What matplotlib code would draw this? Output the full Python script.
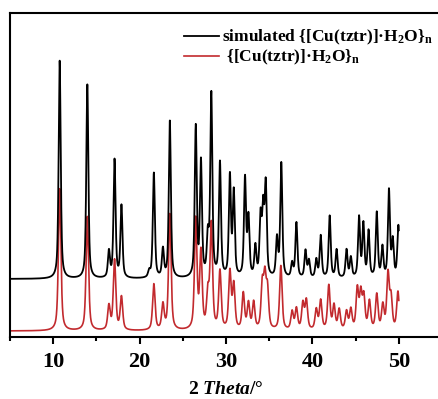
import matplotlib

matplotlib.use("Agg")
import matplotlib.pyplot as plt
import numpy as np
from matplotlib.ticker import MultipleLocator

# peak positions (2 theta, deg) and heights (a.u.)
sim_pos = [10.75, 13.95, 16.45, 17.1, 17.9, 21.1, 21.65, 22.7, 23.5, 26.5,
           27.1, 27.9, 28.3, 29.3, 30.45, 30.9, 32.2, 32.6, 33.4, 34.0,
           34.3, 34.6, 35.9, 36.4, 37.65, 38.15, 39.2, 39.6, 40.45, 40.96,
           42.0, 42.8, 43.95, 44.45, 45.4, 45.9, 46.5, 47.45, 48.1, 48.86,
           49.3, 49.95]
sim_height = [218, 194, 26, 118, 72, 6, 105, 28, 157, 150,
              114, 38, 182, 114, 100, 84, 98, 58, 30, 58,
              64, 90, 38, 114, 14, 55, 27, 17, 18, 42,
              62, 28, 28, 20, 60, 53, 46, 65, 30, 87,
              36, 52]

exp_pos = [10.75, 13.95, 16.45, 17.1, 17.9, 21.65, 22.7, 23.5, 26.5, 27.1,
           27.9, 28.3, 29.3, 30.45, 30.9, 32.0, 32.6, 33.2, 34.2, 34.5,
           34.8, 36.35, 37.65, 38.15, 38.9, 39.3, 40.45, 40.96, 41.9, 42.5,
           43.1, 43.95, 44.45, 45.2, 45.6, 45.95, 46.6, 47.45, 48.15, 48.75,
           49.1, 49.9]
exp_height = [142, 114, 24, 70, 33, 46, 25, 116, 110, 76,
              34, 104, 58, 57, 44, 36, 26, 27, 43, 48,
              38, 64, 18, 21, 26, 29, 20, 29, 44, 24,
              20, 18, 20, 40, 35, 32, 28, 35, 24, 55,
              31, 38]

sim_offset = 58
exp_offset = 6

sim_label = "simulated {[Cu(tztr)]·H$_\\mathrm{2}$O}$_\\mathrm{n}$"
exp_label = " {[Cu(tztr)]·H$_\\mathrm{2}$O}$_\\mathrm{n}$"

plt.rcParams["font.family"] = "Liberation Serif"
plt.rcParams["font.weight"] = "bold"
plt.rcParams["mathtext.fontset"] = "custom"
plt.rcParams["mathtext.rm"] = "Liberation Serif:bold"
plt.rcParams["mathtext.it"] = "Liberation Serif:italic:bold"
plt.rcParams["mathtext.bf"] = "Liberation Serif:bold"


def profile(two_theta: np.ndarray, pos: list, height: list,
            fwhm: float = 0.28, eta: float = 0.6) -> np.ndarray:
    """Sum of pseudo-Voigt peaks for the given peak list."""
    hw = fwhm / 2
    sigma = fwhm / 2.3548
    y = np.zeros_like(two_theta)
    for p, h in zip(pos, height):
        d = two_theta - p
        lor = hw**2 / (d**2 + hw**2)
        gau = np.exp(-(d**2) / (2 * sigma**2))
        y += h * (eta * lor + (1 - eta) * gau)
    return y


two_theta = np.arange(5, 50.001, 0.01)

fig = plt.figure(figsize=(4.38, 3.99), dpi=100)
ax = fig.add_axes([10 / 438, 62 / 399, 432 / 438, 324 / 399])

ax.plot(two_theta, profile(two_theta, exp_pos, exp_height, fwhm=0.34) + exp_offset,
        color="#c22a2e", lw=1.2, label=exp_label)
ax.plot(two_theta, profile(two_theta, sim_pos, sim_height) + sim_offset,
        color="black", lw=1.3, label=sim_label, zorder=3)

ax.set_xlim(5, 55)
ax.set_ylim(0, 324)
ax.set_yticks([])
ax.xaxis.set_major_locator(MultipleLocator(10))
ax.xaxis.set_minor_locator(MultipleLocator(5))
ax.tick_params(axis="x", which="major", direction="out", length=5, width=1.5,
               labelsize=16, pad=6)
ax.tick_params(axis="x", which="minor", direction="out", length=3, width=1.5)
for side in ["left", "top", "bottom"]:
    ax.spines[side].set_linewidth(1.5)
ax.spines["right"].set_visible(False)

ax.set_xlabel("2 $\\mathit{Theta}$/°", fontsize=14, fontweight="bold", labelpad=6)

handles, labels = ax.get_legend_handles_labels()
ax.legend(handles[::-1], labels[::-1], loc="upper right",
          bbox_to_anchor=(430 / 432, 0.975), frameon=False, fontsize=12.5,
          handlelength=2.0, handletextpad=0.2, labelspacing=0.05,
          borderaxespad=0)

fig.savefig("out.png", dpi=100)
